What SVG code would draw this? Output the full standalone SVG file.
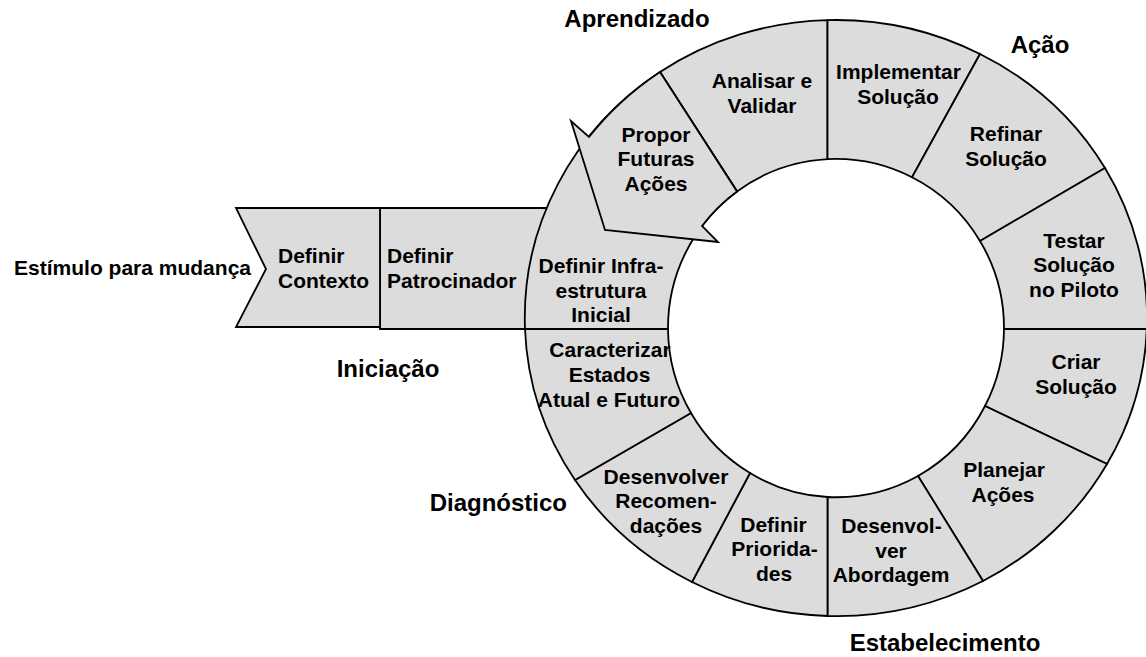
<svg xmlns="http://www.w3.org/2000/svg" width="1146" height="657" viewBox="0 0 1146 657">
<style>
.seg{fill:#dcdcdc;stroke:#000;stroke-width:1.8;stroke-linejoin:miter}
.t{font-family:"Liberation Sans",Arial,sans-serif;font-weight:bold;font-size:21px;fill:#000;text-anchor:middle}
.l{text-anchor:start}
.ph{font-size:24px}
</style>
<rect x="0" y="0" width="1146" height="657" fill="#fff"/>
<text class="t" x="251" y="275" text-anchor="end" style="text-anchor:end">Estímulo para mudança</text>
<g id="definir-patrocinador">
<path class="seg" d="M380,208 L560,208 L560,329 L380,329 Z"/>
<text class="t l" x="387" y="263">Definir</text>
<text class="t l" x="387" y="288">Patrocinador</text>
</g>
<g id="definir-contexto">
<path class="seg" d="M236,208 L380,208 L380,327 L236,327 L266,269 Z"/>
<text class="t l" x="278" y="263">Definir</text>
<text class="t l" x="278" y="288">Contexto</text>
</g>
<g id="analisar-validar">
<path class="seg" d="M660,72 A311,298 0 0 1 827.5,20.1 L827.5,159.2 A168,169 0 0 0 737,191.4 Z"/>
<text class="t" x="762" y="88">Analisar e</text>
<text class="t" x="762" y="112.5">Validar</text>
</g>
<g id="implementar-solucao">
<path class="seg" d="M827.5,20.1 A311,298 0 0 1 980,54 L912,177.3 A168,169 0 0 0 827.5,159.2 Z"/>
<text class="t" x="898.5" y="79.3">Implementar</text>
<text class="t" x="898" y="103.5">Solução</text>
</g>
<g id="refinar-solucao">
<path class="seg" d="M980,54 A311,298 0 0 1 1105,168 L980,241 A168,169 0 0 0 912,177.3 Z"/>
<text class="t" x="1006" y="141">Refinar</text>
<text class="t" x="1006" y="166">Solução</text>
</g>
<g id="testar-solucao">
<path class="seg" d="M1105,168 A311,298 0 0 1 1146.8,329 L1004,329 A168,169 0 0 0 980,241 Z"/>
<text class="t" x="1074" y="248">Testar</text>
<text class="t" x="1074" y="272">Solução</text>
<text class="t" x="1074" y="296.7">no Piloto</text>
</g>
<g id="criar-solucao">
<path class="seg" d="M1146.8,329 A311,298 0 0 1 1107,464 L985,406 A168,169 0 0 0 1004,329 Z"/>
<text class="t" x="1076" y="369.3">Criar</text>
<text class="t" x="1076" y="394">Solução</text>
</g>
<g id="planejar-acoes">
<path class="seg" d="M1107,464 A311,298 0 0 1 983,581 L918,476 A168,169 0 0 0 985,406 Z"/>
<text class="t" x="1004" y="476.5">Planejar</text>
<text class="t" x="1003" y="501.5">Ações</text>
</g>
<g id="desenvolver-abordagem">
<path class="seg" d="M983,581 A311,298 0 0 1 827.5,616 L827.5,497 A168,169 0 0 0 918,476 Z"/>
<text class="t" x="891.5" y="533.3">Desenvol-</text>
<text class="t" x="891" y="558">ver</text>
<text class="t" x="891" y="581.7">Abordagem</text>
</g>
<g id="definir-prioridades">
<path class="seg" d="M827.5,616 A311,298 0 0 1 692,582 L750,473 A168,169 0 0 0 827.5,497 Z"/>
<text class="t" x="773.5" y="531.7">Definir</text>
<text class="t" x="774.5" y="556">Priorida-</text>
<text class="t" x="774" y="580.7">des</text>
</g>
<g id="desenvolver-recomendacoes">
<path class="seg" d="M692,582 A311,298 0 0 1 575,480 L691,413 A168,169 0 0 0 750,473 Z"/>
<text class="t" x="666" y="484">Desenvolver</text>
<text class="t" x="666" y="508">Recomen-</text>
<text class="t" x="666" y="532.7">dações</text>
</g>
<g id="caracterizar-estados">
<path class="seg" d="M575,480 A311,298 0 0 1 525,329 L668,329 A168,169 0 0 0 691,413 Z"/>
<text class="t" x="610" y="357.3">Caracterizar</text>
<text class="t" x="609.5" y="381.7">Estados</text>
<text class="t" x="609" y="407.3">Atual e Futuro</text>
</g>
<g id="definir-infraestrutura">
<path class="seg" d="M525,329 A311,298 0 0 1 660,72 L737,191.4 A168,169 0 0 0 668,329 Z"/>
<text class="t" x="601" y="273">Definir Infra-</text>
<text class="t" x="601" y="297.5">estrutura</text>
<text class="t" x="601" y="321.7">Inicial</text>
</g>
<g id="propor-futuras-acoes">
<path class="seg" d="M660,72 A311,298 0 0 0 589,137 L571,121 L605,230 L718,242 L702,226 A168,169 0 0 1 737,191.4 Z"/>
<text class="t" x="656" y="141.7">Propor</text>
<text class="t" x="656" y="166">Futuras</text>
<text class="t" x="656" y="190.7">Ações</text>
</g>
<g id="connectors"/>
<g id="phases">
<text class="t ph" x="637" y="27">Aprendizado</text>
<text class="t ph" x="1040" y="52.7">Ação</text>
<text class="t ph" x="388" y="377">Iniciação</text>
<text class="t ph" x="567" y="511" style="text-anchor:end">Diagnóstico</text>
<text class="t ph" x="945" y="651">Estabelecimento</text>
</g>
</svg>
